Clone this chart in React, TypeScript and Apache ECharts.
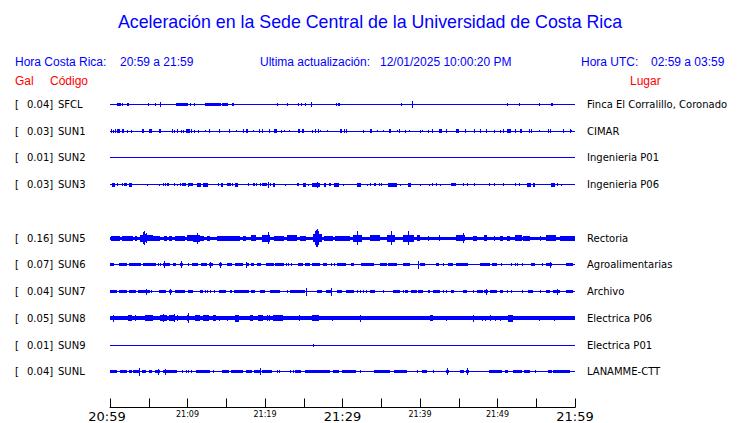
import React, { useEffect, useRef } from "react";
import * as echarts from "echarts";

// ---------- DATA ----------
const TITLE = "Aceleración en la Sede Central de la Universidad de Costa Rica";
const LOCAL_RANGE = "20:59 a 21:59";
const UTC_RANGE = "02:59 a 03:59";
const LAST_UPDATE = "12/01/2025 10:00:20 PM";
const START_HOUR = 20;
const START_MIN = 59;
const WINDOW_MINUTES = 60;

const STATION_CODES = ["SFCL", "SUN1", "SUN2", "SUN3", "SUN5", "SUN6", "SUN7", "SUN8", "SUN9", "SUNL"];
const STATION_SLOTS = [0, 1, 2, 3, 5, 6, 7, 8, 9, 10];
const GAL_VALUES = [0.04, 0.03, 0.01, 0.03, 0.16, 0.07, 0.04, 0.05, 0.01, 0.04];
const PLACES = [
  "Finca El Corralillo, Coronado",
  "CIMAR",
  "Ingenieria P01",
  "Ingenieria P06",
  "Rectoria",
  "Agroalimentarias",
  "Archivo",
  "Electrica P06",
  "Electrica P01",
  "LANAMME-CTT",
];
// background (continuous) half-amplitude of each trace, in counts
const BASE_AMPS = [0.5, 0.5, 0.5, 0.5, 1.5, 0.5, 0.5, 2, 0.5, 0.5];

// bursts: [start minute, end minute, half-amplitude counts]
const sfclEvents = [
  [0.95, 1.46, 2], [1.55, 1.72, 2], [2.15, 2.49, 2], [2.67, 2.67, 1], [4.95, 4.95, 1.5], [5.8, 5.8, 1.5],
  [6.45, 6.45, 2.5], [8.5, 10.1, 2], [10.3, 10.5, 2], [10.9, 10.9, 2], [12.3, 14.3, 2], [14.5, 15.2, 2],
  [15.7, 16.0, 2], [19.1, 19.1, 1], [21.6, 21.6, 2], [22.9, 22.9, 2], [24.2, 24.2, 2], [24.6, 24.6, 1.5],
  [25.1, 25.1, 2], [25.9, 25.9, 3], [29.1, 29.1, 2], [29.4, 29.7, 2], [32.0, 32.0, 1], [37.6, 37.6, 2],
  [39.0, 39.0, 3.5], [50.5, 50.5, 1], [51.2, 51.2, 1.5], [52.8, 52.8, 2], [55.4, 55.4, 2], [56.9, 57.2, 2],
];
const sun1Events = [
  [0.1, 0.1, 2], [0.35, 0.35, 1.5], [0.7, 0.7, 2], [0.95, 1.3, 2], [1.55, 1.8, 2], [2.25, 2.25, 1.5],
  [2.7, 2.8, 1.5], [4.1, 4.35, 2], [5.0, 5.4, 2], [6.35, 6.55, 2], [8.0, 8.0, 2], [8.25, 8.25, 1.5],
  [8.6, 8.6, 2], [9.2, 9.2, 1.5], [9.45, 9.45, 1.5], [9.8, 10.3, 2], [10.5, 10.5, 2], [10.85, 10.85, 1.5],
  [11.3, 11.3, 1.5], [12.2, 12.2, 1], [12.8, 12.8, 2], [14.1, 14.1, 2], [15.3, 15.3, 2], [16.3, 16.3, 1],
  [17.1, 17.1, 2], [17.6, 17.8, 2], [18.4, 18.4, 1], [19.2, 19.2, 2], [19.6, 19.6, 2], [20.5, 20.7, 2],
  [21.2, 21.5, 2], [22.0, 22.0, 1.5], [22.5, 22.5, 1], [23.1, 23.1, 1], [24.2, 24.2, 2], [24.4, 24.4, 2],
  [24.8, 25.0, 2], [26.1, 26.1, 1.5], [26.4, 26.4, 2], [26.9, 26.9, 2], [27.1, 27.1, 1], [28.0, 28.0, 1],
  [29.7, 29.9, 2], [30.2, 30.2, 2], [30.5, 30.5, 2], [32.6, 32.6, 1.5], [33.6, 33.8, 2], [34.5, 34.5, 1],
  [35.2, 35.2, 1], [36.0, 36.2, 2], [37.0, 37.0, 1], [37.3, 37.3, 2], [38.0, 38.0, 1.5], [38.6, 38.6, 1],
  [40.0, 40.0, 1.5], [40.3, 40.3, 1], [41.0, 41.0, 1.5], [41.5, 41.7, 2], [42.5, 42.8, 2], [43.4, 43.4, 2],
  [44.7, 45.0, 2], [45.8, 45.8, 2], [47.0, 47.0, 2], [47.8, 47.8, 2], [48.5, 48.5, 2], [49.6, 49.6, 1.5],
  [50.3, 50.3, 1.5], [50.7, 50.7, 2], [51.2, 51.7, 2], [52.2, 52.3, 2], [52.9, 53.2, 2], [54.1, 54.1, 2],
  [54.3, 54.3, 2], [55.4, 55.4, 1], [56.5, 56.5, 2], [56.8, 56.8, 2], [58.4, 58.4, 2], [59.4, 59.4, 2],
  [59.5, 59.5, 1],
];
const sun2Events: number[][] = [];
const sun3Events = [
  [0.2, 0.6, 2], [0.95, 0.95, 1.5], [1.55, 1.55, 1.5], [1.8, 2.15, 1.5], [2.5, 2.8, 2], [4.8, 4.8, 1],
  [6.35, 6.35, 1], [6.8, 6.8, 1.5], [7.1, 7.1, 1.5], [7.3, 7.65, 1.5], [8.25, 8.25, 1.5], [8.6, 8.6, 1],
  [9.0, 9.0, 1.5], [9.3, 9.8, 1.5], [10.0, 10.0, 2], [10.25, 10.75, 1.5], [11.2, 11.7, 2], [12.0, 12.7, 2],
  [13.9, 14.1, 1.5], [14.3, 14.55, 2], [15.1, 15.55, 1.5], [15.8, 15.8, 1.5], [16.1, 16.5, 2], [17.85, 17.85, 1.5],
  [18.5, 18.7, 1.5], [18.9, 18.9, 1.5], [19.3, 19.3, 1.5], [19.6, 20.2, 1.5], [20.4, 20.4, 3], [20.7, 20.7, 1.5],
  [21.0, 21.3, 2], [22.6, 22.6, 1], [24.1, 24.35, 1.5], [24.9, 25.3, 2], [25.6, 25.6, 1], [26.0, 27.1, 2],
  [26.75, 26.75, 3], [27.6, 27.9, 2], [28.3, 28.55, 1.5], [28.9, 29.5, 2], [30.0, 30.0, 1], [31.9, 32.35, 2],
  [33.2, 33.2, 1], [33.5, 33.5, 1.5], [34.0, 34.3, 1.5], [34.75, 34.75, 1.5], [35.0, 35.0, 1.5], [35.9, 37.0, 2],
  [37.4, 37.4, 1], [38.5, 38.9, 2], [40.0, 40.0, 1], [41.2, 41.2, 1], [41.5, 41.5, 1.5], [42.1, 42.1, 1.5],
  [42.6, 42.6, 1], [44.0, 44.6, 1.5], [45.5, 45.7, 1.5], [46.0, 46.0, 1.5], [47.0, 47.0, 1.5], [48.9, 48.9, 1.5],
  [49.6, 49.6, 1.5], [50.7, 50.7, 1.5], [52.3, 52.3, 1.5], [52.8, 52.8, 1.5], [53.8, 54.3, 2], [54.6, 54.9, 2],
  [56.9, 57.4, 2], [57.7, 57.7, 1.5], [58.2, 58.2, 1],
];
const sun5Events = [
  [0.1, 1.3, 2.5], [1.55, 3.0, 2.5], [3.2, 3.45, 2.5], [3.9, 4.2, 3.5], [4.2, 4.7, 4], [4.3, 4.3, 6], [4.45, 4.45, 7],
  [4.6, 4.6, 5], [4.7, 5.6, 3], [5.6, 6.45, 2.5], [7.0, 7.3, 2.5], [7.65, 7.95, 2.5], [8.35, 9.7, 2.5],
  [9.9, 10.75, 3], [10.75, 11.6, 3.5], [11.2, 11.2, 5.5], [11.6, 12.1, 2.5], [12.5, 12.9, 2.5], [13.8, 16.8, 2.5],
  [17.1, 17.6, 2.5], [18.15, 18.9, 3], [19.6, 20.65, 3.5], [20.4, 20.4, 6], [21.1, 22.45, 2.5], [22.8, 24.1, 3],
  [24.5, 25.3, 2.5], [26.2, 27.3, 4], [26.4, 26.4, 7], [26.6, 26.6, 8.5], [26.75, 26.75, 9], [26.9, 26.9, 7],
  [27.6, 28.8, 2.5], [29.0, 29.7, 2.5], [29.7, 31.0, 2.5], [31.4, 32.5, 3.5], [31.9, 31.9, 7], [33.6, 34.8, 3],
  [35.7, 36.8, 3.5], [36.3, 36.3, 7], [37.8, 39.2, 3.5], [38.5, 38.5, 7], [39.6, 40.0, 3], [41.0, 41.2, 2.5],
  [42.4, 42.6, 3], [44.7, 45.8, 3], [45.5, 45.5, 5], [46.9, 47.4, 2.5], [48.2, 48.7, 3], [49.5, 49.5, 2.5],
  [50.3, 50.75, 2.5], [51.2, 51.6, 2.5], [52.2, 53.1, 3], [53.3, 54.2, 2.5], [55.5, 55.5, 2.5], [56.3, 57.6, 3],
  [58.0, 60.0, 2.5],
];
const sun6Events = [
  [0.0, 0.5, 1.5], [1.2, 2.15, 1.5], [2.4, 3.95, 1.5], [4.2, 5.95, 1.5], [6.15, 6.15, 1.5], [6.45, 6.45, 1.5],
  [6.9, 7.8, 1.5], [7.0, 7.0, 3.5], [8.1, 8.5, 1.5], [9.0, 9.4, 1.5], [9.15, 9.15, 3.5], [10.0, 10.0, 1.5],
  [10.6, 11.4, 1.5], [11.7, 12.5, 1.5], [12.8, 13.3, 1.5], [12.9, 12.9, 3], [14.1, 14.4, 1.5], [14.2, 14.2, 3],
  [15.05, 15.75, 1.5], [16.1, 17.2, 1.5], [17.5, 17.9, 1.5], [17.6, 17.6, 3], [18.15, 18.6, 1.5], [19.0, 19.45, 1.5],
  [20.1, 21.1, 1.5], [21.3, 22.45, 1.5], [22.7, 22.7, 1.5], [23.0, 23.0, 1.5], [23.3, 23.3, 1.5], [24.3, 24.95, 1.5],
  [25.2, 25.8, 1.5], [26.1, 27.1, 1.5], [27.5, 27.95, 1.5], [28.5, 28.5, 1.5], [28.9, 28.9, 1.5], [29.3, 29.7, 1.5],
  [29.7, 30.5, 1.5], [31.1, 31.5, 1.5], [32.35, 34.0, 1.5], [34.8, 35.7, 1.5], [35.9, 37.0, 1.5], [37.8, 38.7, 1.5],
  [39.7, 39.7, 4], [40.0, 40.7, 1.5], [42.1, 42.5, 1.5], [43.0, 43.0, 1.5], [43.6, 44.3, 1.5], [44.7, 46.2, 1.5],
  [47.7, 49.0, 1.5], [49.25, 49.9, 1.5], [50.4, 50.4, 1.5], [51.8, 51.8, 1.5], [52.2, 52.2, 1.5], [52.5, 52.5, 1.5],
  [53.1, 53.1, 1.5], [54.3, 54.8, 1.5], [55.7, 55.7, 1.5], [56.2, 57.0, 1.5], [56.8, 56.8, 3], [58.8, 59.8, 1.5],
];
const sun7Events = [
  [0.0, 0.85, 1.5], [1.1, 2.15, 1.5], [2.5, 3.35, 1.5], [3.6, 5.1, 1.5], [4.7, 4.7, 3], [5.25, 5.25, 1.5],
  [6.3, 7.2, 1.5], [7.65, 8.0, 1.5], [7.8, 7.8, 3], [8.35, 9.7, 1.5], [10.0, 10.65, 1.5], [11.6, 12.0, 1.5],
  [12.3, 12.3, 1.5], [12.55, 12.55, 1.5], [12.9, 12.9, 1.5], [13.4, 13.4, 1.5], [14.0, 14.95, 1.5], [15.5, 15.75, 1.5],
  [16.0, 17.9, 1.5], [18.15, 18.75, 1.5], [19.35, 20.0, 1.5], [20.7, 21.9, 1.5], [22.8, 22.8, 1.5], [23.2, 25.2, 1.5],
  [25.3, 25.3, 4], [26.7, 27.35, 1.5], [27.9, 28.7, 1.5], [28.5, 28.5, 4], [29.25, 29.95, 1.5], [30.5, 31.5, 1.5],
  [31.9, 31.9, 1.5], [32.3, 32.3, 1.5], [32.6, 32.6, 1.5], [33.0, 33.0, 1.5], [33.6, 34.2, 1.5], [35.2, 35.2, 1.5],
  [36.5, 37.4, 1.5], [37.8, 37.8, 1.5], [38.1, 38.5, 1.5], [38.9, 39.6, 1.5], [39.8, 40.4, 1.5], [41.0, 41.3, 1.5],
  [41.7, 42.6, 1.5], [43.0, 43.0, 1.5], [43.4, 43.4, 1.5], [44.0, 44.4, 1.5], [45.5, 46.1, 1.5], [46.8, 46.8, 1.5],
  [47.3, 48.1, 1.5], [48.2, 48.8, 1.5], [48.5, 48.5, 3], [49.0, 49.9, 1.5], [50.3, 50.75, 1.5], [51.2, 51.2, 1.5],
  [51.8, 51.8, 1.5], [53.2, 53.2, 1.5], [53.9, 54.6, 1.5], [55.5, 55.5, 1.5], [56.2, 56.8, 1.5], [57.2, 58.0, 1.5],
  [57.7, 57.7, 3], [58.9, 59.8, 1.5],
];
const sun8Events = [
  [0.45, 0.45, 3.5], [2.35, 2.8, 3], [3.2, 3.2, 3], [4.55, 5.5, 3], [6.45, 7.3, 3], [6.9, 6.9, 4],
  [7.65, 8.45, 3], [8.25, 8.25, 4], [8.7, 8.7, 3], [9.9, 10.25, 3], [10.0, 10.0, 5], [10.95, 11.6, 3],
  [12.05, 12.75, 3], [13.25, 13.7, 3], [14.0, 14.0, 2.5], [15.05, 15.05, 2.5], [16.1, 16.6, 3.5],
  [18.05, 18.5, 3], [19.1, 19.8, 3], [20.2, 20.2, 3], [20.55, 20.55, 3], [21.0, 22.35, 3], [24.4, 24.4, 3],
  [26.05, 27.0, 3], [28.6, 28.6, 2.5], [32.3, 32.3, 3.5], [41.3, 41.7, 3], [43.3, 43.3, 2.5], [46.9, 46.9, 3.5],
  [48.0, 48.0, 2.5], [48.4, 48.4, 2.5], [49.0, 49.0, 3], [49.7, 49.7, 2.5], [50.3, 50.3, 2.5], [51.4, 52.0, 3.5],
  [55.4, 55.4, 2.5], [57.3, 57.3, 2.5],
];
const sun9Events = [[26.2, 26.2, 1.5]];
const sunlEvents = [
  [0.0, 0.85, 1.5], [1.3, 2.15, 1.5], [2.5, 2.85, 1.5], [3.0, 3.9, 1.5], [3.8, 3.8, 4], [4.1, 4.7, 1.5], [5.0, 5.4, 1.5],
  [5.85, 6.45, 1.5], [6.25, 6.25, 3], [6.9, 7.75, 1.5], [7.15, 7.15, 3], [7.8, 8.7, 1.5], [9.3, 9.3, 1.5],
  [9.8, 9.8, 1.5], [10.05, 10.05, 1.5], [10.4, 10.4, 1.5], [11.1, 12.9, 1.5], [13.25, 13.25, 1.5],
  [14.45, 15.4, 1.5], [15.65, 17.2, 1.5], [17.5, 18.3, 1.5], [18.6, 19.3, 1.5], [19.35, 19.35, 3.5], [19.6, 20.85, 1.5],
  [21.5, 21.5, 1.5], [21.85, 21.85, 1.5], [23.2, 23.2, 1.5], [23.55, 23.55, 1.5], [23.9, 24.7, 1.5],
  [25.1, 28.4, 1.5], [28.8, 29.6, 1.5], [29.9, 31.0, 1.5], [31.0, 31.8, 1.5], [32.3, 32.3, 1.5], [34.0, 36.1, 1.5],
  [36.6, 38.3, 1.5], [39.6, 39.6, 1.5], [40.3, 40.9, 1.5], [41.7, 41.7, 1.5], [43.3, 43.7, 1.5], [43.5, 43.5, 3.5],
  [45.2, 45.7, 1.5], [45.9, 46.3, 1.5], [46.1, 46.1, 3.5], [48.85, 50.6, 1.5], [51.0, 51.4, 1.5], [52.0, 53.1, 1.5],
  [53.4, 54.2, 1.5], [54.8, 54.8, 1.5], [56.5, 57.0, 1.5], [57.2, 59.4, 1.5],
];
const STATION_EVENTS = [
  sfclEvents, sun1Events, sun2Events, sun3Events, sun5Events,
  sun6Events, sun7Events, sun8Events, sun9Events, sunlEvents,
];

// ---------- LAYOUT / STYLE ----------
const COUNTS_PER_SLOT = 27;
const BLUE = "#0000ff";
const RED = "#ff0000";

function timeLabel(v: number): string {
  const total = START_HOUR * 60 + START_MIN + v;
  const h = Math.floor(total / 60) % 24;
  const m = total % 60;
  return `${String(h).padStart(2, "0")}:${String(m).padStart(2, "0")}`;
}

function buildTraceData() {
  const rows: number[][] = [];
  STATION_CODES.forEach((_, i) => {
    rows.push([0, WINDOW_MINUTES, STATION_SLOTS[i], BASE_AMPS[i]]);
  });
  STATION_CODES.forEach((_, i) => {
    STATION_EVENTS[i].forEach((e) => rows.push([e[0], e[1], STATION_SLOTS[i], e[2]]));
  });
  return rows;
}

export default function App() {
  const ref = useRef<HTMLDivElement>(null);

  useEffect(() => {
    if (!ref.current) return;
    const chart = echarts.init(ref.current, null, { renderer: "svg" });
    const slotIndex = (v: number) => STATION_SLOTS.indexOf(v);

    const option: any = {
      animation: false,
      backgroundColor: "#ffffff",
      grid: { left: 110, right: 165, top: 104.5, bottom: 13.5, containLabel: false },
      xAxis: {
        type: "value",
        position: "bottom",
        min: 0,
        max: WINDOW_MINUTES,
        interval: 5,
        axisLine: { show: true, onZero: false, lineStyle: { color: "#000", width: 1 } },
        axisTick: { show: true, inside: true, length: 9, lineStyle: { color: "#000", width: 1 } },
        splitLine: { show: false },
        axisLabel: {
          margin: 2,
          verticalAlign: "top",
          color: "#000",
          formatter: (v: number) => {
            if (v % 10 !== 0) return "";
            const t = timeLabel(v);
            if (v === 0) return `{first|${t}}`;
            return v % 30 === 0 ? `{big|${t}}` : `{small|${t}}`;
          },
          rich: {
            first: { fontSize: 13, fontFamily: "DejaVu Sans", color: "#000", lineHeight: 14, padding: [0, 6, 0, 0] },
            big: { fontSize: 13, fontFamily: "DejaVu Sans", color: "#000", lineHeight: 14 },
            small: { fontSize: 8, fontFamily: "DejaVu Sans", color: "#000", lineHeight: 10 },
          },
        },
      },
      yAxis: [
        {
          type: "value",
          min: 0,
          max: 34 / 3,
          interval: 1,
          inverse: true,
          axisLine: { show: false },
          axisTick: { show: false },
          splitLine: { show: false },
          axisLabel: {
            margin: 95,
            align: "left",
            formatter: (v: number) => {
              const i = slotIndex(v);
              if (i < 0) return "";
              return `{br|[}{gal|${GAL_VALUES[i].toFixed(2)}]}{code|${STATION_CODES[i]}}`;
            },
            rich: {
              br: { width: 12, fontSize: 10, fontFamily: "DejaVu Sans", color: "#000" },
              gal: { width: 31, fontSize: 10, fontFamily: "DejaVu Sans", color: "#000" },
              code: { fontSize: 10, fontFamily: "DejaVu Sans", color: "#000" },
            },
          },
        },
        {
          type: "value",
          position: "right",
          min: 0,
          max: 34 / 3,
          interval: 1,
          inverse: true,
          axisLine: { show: false },
          axisTick: { show: false },
          splitLine: { show: false },
          axisLabel: {
            margin: 12,
            align: "left",
            fontSize: 10,
            fontFamily: "DejaVu Sans",
            color: "#000",
            formatter: (v: number) => {
              const i = slotIndex(v);
              return i < 0 ? "" : PLACES[i];
            },
          },
        },
      ],
      series: [
        {
          type: "custom",
          xAxisIndex: 0,
          yAxisIndex: 0,
          clip: false,
          encode: { x: [0, 1], y: 2 },
          data: buildTraceData(),
          renderItem: (params: any, api: any) => {
            const s = api.value(0);
            const e = api.value(1);
            const slot = api.value(2);
            const amp = api.value(3);
            const p1 = api.coord([s, slot]);
            const p2 = api.coord([e, slot]);
            const pxPerSlot = Math.abs(api.size([0, 1])[1]);
            const h = (amp * pxPerSlot) / COUNTS_PER_SLOT;
            const x0 = Math.round(p1[0]);
            const w = Math.max(1, Math.round(p2[0]) - x0);
            const y0 = Math.round(p1[1] - h);
            const y1 = Math.round(p1[1] + h);
            return {
              type: "rect",
              shape: { x: x0, y: y0, width: w, height: Math.max(1, y1 - y0) },
              style: { fill: BLUE },
            };
          },
        },
      ],
      graphic: [
        { type: "text", left: "center", top: 13, style: { text: TITLE, fontSize: 17.8, fontFamily: "Liberation Sans", fill: BLUE } },
        { type: "text", x: 15, y: 62, style: { text: "Hora Costa Rica:", fontSize: 12, fontFamily: "Liberation Sans", fill: BLUE, verticalAlign: "middle" } },
        { type: "text", x: 120, y: 62, style: { text: LOCAL_RANGE, fontSize: 12, fontFamily: "Liberation Sans", fill: BLUE, verticalAlign: "middle" } },
        { type: "text", x: 260, y: 62, style: { text: "Ultima actualización:", fontSize: 12, fontFamily: "Liberation Sans", fill: BLUE, verticalAlign: "middle" } },
        { type: "text", x: 380, y: 62, style: { text: LAST_UPDATE, fontSize: 12, fontFamily: "Liberation Sans", fill: BLUE, verticalAlign: "middle" } },
        { type: "text", x: 581, y: 62, style: { text: "Hora UTC:", fontSize: 12, fontFamily: "Liberation Sans", fill: BLUE, verticalAlign: "middle" } },
        { type: "text", x: 651, y: 62, style: { text: UTC_RANGE, fontSize: 12, fontFamily: "Liberation Sans", fill: BLUE, verticalAlign: "middle" } },
        { type: "text", x: 15, y: 81, style: { text: "Gal", fontSize: 12, fontFamily: "Liberation Sans", fill: RED, verticalAlign: "middle" } },
        { type: "text", x: 50, y: 81, style: { text: "Código", fontSize: 12, fontFamily: "Liberation Sans", fill: RED, verticalAlign: "middle" } },
        { type: "text", x: 630, y: 81, style: { text: "Lugar", fontSize: 12, fontFamily: "Liberation Sans", fill: RED, verticalAlign: "middle" } },
      ],
    };

    chart.setOption(option);
    return () => chart.dispose();
  }, []);

  return (
    <div
      ref={ref}
      style={{ position: "fixed", left: 0, top: 0, width: 740, height: 423, background: "#fff" }}
    />
  );
}
